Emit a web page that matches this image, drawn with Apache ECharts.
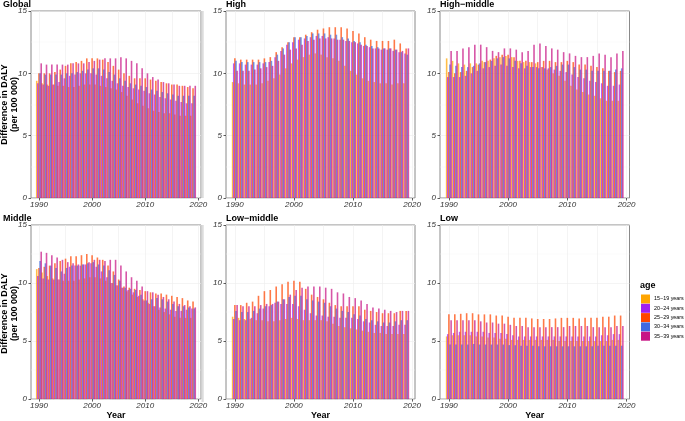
<!DOCTYPE html>
<html>
<head>
<meta charset="utf-8">
<script src="https://cdn.jsdelivr.net/npm/echarts@6/dist/echarts.min.js"></script>
<style>
html,body{margin:0;padding:0;background:#fff;}
#c{width:685px;height:421px;}
</style>
</head>
<body>
<div id="c"></div>
<script>
// x categories (1989 and 2020 are empty padding categories)
const years = ['1989','1990','1991','1992','1993','1994','1995','1996','1997','1998','1999','2000','2001','2002','2003','2004','2005','2006','2007','2008','2009','2010','2011','2012','2013','2014','2015','2016','2017','2018','2019','2020'];
const xTickLabels = ['1990','2000','2010','2020'];
const yTicks = [0, 5, 10, 15];
const ages = ['15−19 years','20−24 years','25−29 years','30−34 years','35−39 years'];
const panelNames = ['Global','High','High−middle','Middle','Low−middle','Low'];

// values for 1990..2019
const global15 = [9.4,9.2,9.1,9.1,9.0,9.0,8.9,8.9,9.0,9.1,9.1,9.1,9.0,8.9,8.8,8.7,8.5,8.2,7.9,7.6,7.4,7.2,7.0,6.9,6.8,6.8,6.7,6.6,6.6,6.6];
const global20 = [9.2,9.1,9.0,9.1,9.3,9.6,9.8,9.9,10.0,10.0,10.0,9.9,9.8,9.6,9.4,9.2,9.0,8.9,8.8,8.7,8.6,8.4,8.3,8.1,8.0,7.9,7.8,7.7,7.6,7.6];
const global25 = [10.0,10.0,10.0,10.1,10.3,10.6,10.8,10.9,11.0,11.2,11.2,11.2,11.1,10.9,10.6,10.3,10.0,9.8,9.6,9.6,9.6,9.5,9.4,9.3,9.2,9.1,9.1,9.0,8.9,8.8];
const global30 = [10.0,9.9,9.9,9.9,9.9,10.0,10.0,10.1,10.2,10.3,10.4,10.4,10.3,10.1,9.9,9.6,9.4,9.2,9.1,9.0,8.9,8.7,8.6,8.5,8.4,8.3,8.2,8.2,8.2,8.2];
const global35 = [10.8,10.7,10.7,10.7,10.7,10.7,10.8,10.8,10.8,10.9,11.0,11.1,11.2,11.2,11.2,11.3,11.2,11.0,10.8,10.4,10.0,9.7,9.5,9.3,9.2,9.1,9.0,9.0,9.0,9.0];

const high15 = [9.3,9.2,9.1,9.1,9.1,9.2,9.4,9.6,9.9,10.4,10.8,11.1,11.3,11.5,11.6,11.5,11.3,11.2,11.0,10.6,10.2,9.9,9.6,9.4,9.3,9.2,9.2,9.1,9.2,9.2];
const high20 = [10.8,10.8,10.7,10.7,10.7,10.8,10.9,11.3,11.8,12.3,12.5,12.7,12.8,12.9,13.0,13.0,12.9,12.8,12.7,12.6,12.5,12.4,12.2,12.1,12.0,11.9,11.9,11.8,11.7,11.6];
const high25 = [11.2,11.1,11.1,11.1,11.1,11.2,11.3,11.7,12.1,12.5,12.9,12.9,13.1,13.3,13.5,13.6,13.7,13.7,13.7,13.6,13.4,13.2,12.9,12.7,12.6,12.6,12.6,12.7,12.4,12.0];
const high30 = [11.0,10.9,10.9,10.9,10.9,10.9,11.0,11.5,12.0,12.5,12.9,12.9,13.0,13.2,13.2,13.2,13.1,13.1,12.9,12.8,12.6,12.5,12.3,12.2,12.1,12.0,12.0,11.9,11.7,11.5];
const high35 = [10.2,10.2,10.2,10.3,10.4,10.5,10.6,11.0,11.5,11.9,12.0,12.3,12.6,12.7,12.8,12.8,12.8,12.7,12.7,12.6,12.5,12.3,12.2,12.0,12.0,12.0,12.0,11.9,11.8,12.0];

const highMid15 = [11.2,11.0,10.8,10.7,10.8,10.8,11.0,11.0,11.2,11.3,11.4,11.3,11.0,10.9,10.9,10.8,10.5,10.3,10.0,9.8,9.4,9.0,8.7,8.5,8.3,8.2,8.0,7.8,7.8,7.8];
const highMid20 = [9.7,9.7,9.7,9.8,10.0,10.2,10.4,10.5,10.6,10.7,10.6,10.5,10.4,10.4,10.5,10.5,10.5,10.4,10.3,10.2,10.1,9.9,9.7,9.6,9.4,9.3,9.2,9.0,9.0,9.1];
const highMid25 = [10.1,10.0,10.1,10.2,10.5,10.7,10.9,11.1,11.4,11.5,11.5,11.3,11.0,11.0,10.9,10.9,11.0,11.0,10.9,10.9,11.0,10.9,10.7,10.7,10.6,10.5,10.4,10.2,10.1,10.2];
const highMid30 = [10.7,10.6,10.5,10.5,10.6,10.8,10.9,11.0,11.2,11.3,11.2,11.0,10.8,10.6,10.5,10.4,10.4,10.5,10.6,10.7,10.7,10.5,10.3,10.3,10.2,10.2,10.2,10.2,10.3,10.4];
const highMid35 = [11.8,11.8,12.0,12.1,12.3,12.3,12.1,11.8,11.7,12.0,12.0,11.9,11.7,11.8,12.3,12.4,12.2,12.0,11.9,11.7,11.6,11.4,11.3,11.3,11.4,11.6,11.5,11.3,11.6,11.8];

const middle15 = [11.2,10.9,10.6,10.4,10.3,10.2,10.2,10.2,10.3,10.4,10.5,10.5,10.4,10.2,10.0,9.8,9.6,9.3,9.0,8.8,8.6,8.3,8.0,7.7,7.5,7.3,7.1,7.0,7.0,7.0];
const middle20 = [10.6,10.4,10.3,10.3,10.3,10.8,11.4,11.5,11.5,11.6,11.7,11.4,11.0,10.5,10.0,9.8,9.6,9.4,9.2,8.9,8.5,8.2,8.0,7.9,7.8,7.7,7.6,7.6,7.7,7.8];
const middle25 = [11.3,11.4,11.5,11.7,11.9,12.1,12.3,12.3,12.4,12.5,12.4,12.2,12.0,11.5,11.0,10.3,9.7,9.6,9.5,9.4,9.3,9.2,9.1,9.1,9.0,8.9,8.8,8.7,8.5,8.4];
const middle30 = [11.9,11.7,11.5,11.3,11.0,11.3,11.5,11.5,11.6,11.7,11.8,11.6,11.5,11.1,10.7,10.2,9.6,9.5,9.4,9.0,8.5,8.6,8.7,8.6,8.4,8.2,8.0,8.0,7.9,7.8];
const middle35 = [12.7,12.6,12.4,12.2,12.0,11.8,11.7,11.6,11.6,11.8,12.0,12.0,11.9,12.0,12.0,11.5,11.0,10.5,10.2,9.7,9.3,9.2,9.0,8.8,8.6,8.4,8.2,8.1,8.0,7.9];

const lowMid15 = [7.1,7.0,6.9,6.9,6.8,6.8,6.7,6.7,6.8,6.9,7.0,6.9,6.8,6.8,6.8,6.8,6.7,6.5,6.3,6.2,6.1,6.0,5.9,5.8,5.7,5.7,5.6,5.6,5.6,5.6];
const lowMid20 = [6.9,6.8,6.8,7.0,7.4,7.8,8.0,8.3,8.2,8.2,8.2,8.0,7.7,7.4,7.2,7.2,7.1,7.1,7.0,7.0,7.0,6.9,6.7,6.6,6.4,6.3,6.3,6.3,6.4,6.4];
const lowMid25 = [8.1,8.1,8.3,8.4,8.9,9.3,9.4,9.7,9.9,10.1,10.2,10.1,9.5,9.0,8.8,8.6,8.3,8.1,8.0,8.0,8.0,8.0,7.7,7.6,7.5,7.4,7.4,7.4,7.6,7.6];
const lowMid30 = [7.6,7.5,7.5,7.6,7.8,8.0,8.1,8.4,8.6,8.8,8.9,8.9,8.6,8.5,8.4,8.3,8.0,7.8,7.6,7.5,7.3,7.2,6.9,6.8,6.7,6.6,6.6,6.7,6.8,6.8];
const lowMid35 = [8.1,8.0,8.0,8.0,8.1,8.2,8.2,8.4,8.6,9.0,9.4,9.6,9.7,9.7,9.7,9.6,9.5,9.2,9.1,8.8,8.7,8.5,8.2,7.9,7.8,7.7,7.6,7.5,7.6,7.6];

const low15 = [5.4,5.5,5.5,5.5,5.5,5.4,5.4,5.3,5.3,5.2,5.2,5.1,5.1,5.1,5.1,5.1,5.1,5.1,5.1,5.0,5.0,5.0,5.0,5.0,5.0,5.0,5.0,5.0,5.1,5.1];
const low20 = [5.6,5.7,5.8,5.8,5.8,5.8,5.8,5.7,5.7,5.7,5.6,5.5,5.4,5.4,5.4,5.4,5.4,5.4,5.4,5.4,5.4,5.4,5.4,5.4,5.4,5.4,5.5,5.5,5.6,5.6];
const low25 = [7.3,7.3,7.35,7.4,7.4,7.3,7.3,7.3,7.2,7.2,7.1,7.0,7.0,7.0,6.95,6.9,6.9,6.9,6.95,7.0,7.0,7.0,6.95,7.0,7.0,7.0,7.1,7.1,7.2,7.2];
const low30 = [4.7,4.7,4.7,4.7,4.75,4.7,4.7,4.7,4.7,4.7,4.65,4.65,4.6,4.6,4.6,4.55,4.55,4.55,4.55,4.55,4.55,4.55,4.55,4.55,4.55,4.6,4.6,4.6,4.6,4.6];
const low35 = [6.8,6.8,6.8,6.8,6.8,6.7,6.6,6.6,6.5,6.5,6.4,6.3,6.3,6.2,6.2,6.2,6.2,6.2,6.2,6.2,6.3,6.3,6.3,6.3,6.2,6.2,6.2,6.2,6.3,6.3];

const panelData = [
  [global15, global20, global25, global30, global35],
  [high15, high20, high25, high30, high35],
  [highMid15, highMid20, highMid25, highMid30, highMid35],
  [middle15, middle20, middle25, middle30, middle35],
  [lowMid15, lowMid20, lowMid25, lowMid30, lowMid35],
  [low15, low20, low25, low30, low35]
];

const colors = ['#FFA500','#A020F0','#FF4500','#4169E1','#C71585'];
const FONT = 'Liberation Sans, Arial, sans-serif';

const gridBoxes = [
  {left:31, top:11, width:170, height:187},
  {left:226, top:11, width:189, height:187},
  {left:440, top:11, width:189.5, height:187},
  {left:31, top:225, width:170, height:177},
  {left:226, top:225, width:189, height:177},
  {left:440, top:225, width:189.5, height:177}
];

const isLabelYear = (i, v) => xTickLabels.indexOf(String(v)) >= 0;
const isGridYear = (i, v) => (+v) % 5 === 0;

const grid = [], xAxis = [], yAxis = [], series = [], title = [];
gridBoxes.forEach((g, p) => {
  grid.push(Object.assign({show:true, borderColor:'#8a8a8a', borderWidth:1, backgroundColor:'transparent', containLabel:false}, g));
  xAxis.push({
    type:'category', gridIndex:p, data:years, boundaryGap:true,
    axisLine:{show:false},
    axisTick:{show:true, alignWithLabel:true, interval:isLabelYear, length:2.5, lineStyle:{color:'#333', width:0.8}},
    axisLabel:{interval:isLabelYear, fontSize:8, fontStyle:'italic', color:'#333', margin:3, fontFamily:FONT},
    splitLine:{show:true, alignWithLabel:true, interval:isGridYear, lineStyle:{color:'#ececec', width:0.6}},
    name: p >= 3 ? 'Year' : '', nameLocation:'middle', nameGap:11.5,
    nameTextStyle:{fontSize:9, fontWeight:'bold', color:'#000', fontFamily:FONT}
  });
  yAxis.push({
    type:'value', gridIndex:p, min:yTicks[0], max:yTicks[yTicks.length-1], interval:5,
    axisLine:{show:false},
    axisTick:{show:true, length:2.5, lineStyle:{color:'#333', width:0.8}},
    axisLabel:{fontSize:8, fontStyle:'italic', color:'#333', margin:4, fontFamily:FONT},
    splitLine:{show:true, lineStyle:{color:'#ececec', width:0.6}},
    minorTick:{show:false, splitNumber:2},
    minorSplitLine:{show:true, lineStyle:{color:'#f4f4f4', width:0.4}}
  });
  const y0 = g.top;
  title.push({text:panelNames[p], left:g.left - (p % 3 === 0 ? 28 : 0), top:y0 - 11,
    padding:0, textStyle:{fontSize:9, fontWeight:'bold', color:'#000', fontFamily:FONT}});
  panelData[p].forEach((arr, k) => {
    series.push({
      type:'bar', name:ages[k], xAxisIndex:p, yAxisIndex:p,
      data:[null].concat(arr).concat([null]),
      barWidth:1.6, barGap:'-30%',
      itemStyle:{color:colors[k], opacity:0.72},
      emphasis:{disabled:true}, animation:false, z:2
    });
  });
});

const chart = echarts.init(document.getElementById('c'), null, {renderer:'canvas'});
chart.setOption({
  animation:false,
  backgroundColor:'#fff',
  color:colors,
  title:title,
  grid:grid, xAxis:xAxis, yAxis:yAxis, series:series,
  legend:{
    orient:'vertical', left:641, top:294.5, padding:0,
    itemWidth:9, itemHeight:9, itemGap:0.3, icon:'rect',
    itemStyle:{opacity:1},
    data:ages, selectedMode:false,
    textStyle:{fontSize:5.4, color:'#000', fontFamily:FONT, padding:[0,0,0,-1]}
  },
  graphic:[
    {type:'rect', shape:{x:201.5, y:11, width:2.2, height:187}, style:{fill:'#dcdcdc'}, silent:true},
    {type:'rect', shape:{x:201.5, y:225, width:2.2, height:177}, style:{fill:'#dcdcdc'}, silent:true},
    {type:'text', left:640, top:281, style:{text:'age', font:'bold 9px ' + FONT, fill:'#000'}},
    {type:'text', x:9.5, y:104.5, rotation:Math.PI/2,
      style:{text:'Difference in DALY\n(per 100 000)', font:'bold 9px ' + FONT, fill:'#000', align:'center', verticalAlign:'middle', lineHeight:9.5}},
    {type:'text', x:9.5, y:313.5, rotation:Math.PI/2,
      style:{text:'Difference in DALY\n(per 100 000)', font:'bold 9px ' + FONT, fill:'#000', align:'center', verticalAlign:'middle', lineHeight:9.5}}
  ]
});
</script>
</body>
</html>
